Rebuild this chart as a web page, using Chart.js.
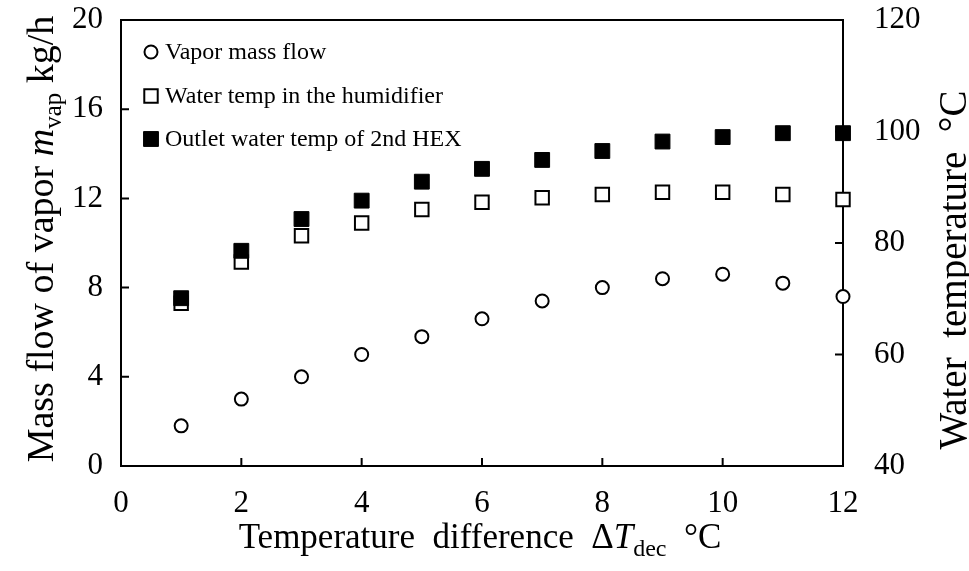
<!DOCTYPE html>
<html>
<head>
<meta charset="utf-8">
<script src="https://cdn.jsdelivr.net/npm/chart.js@4.4.0/dist/chart.umd.min.js"></script>
<style>
  html, body { margin: 0; padding: 0; background: #fff; }
</style>
</head>
<body>
<canvas id="vaporChart" width="969" height="571"></canvas>
<script>

const deltaT = [1, 2, 3, 4, 5, 6, 7, 8, 9, 10, 11, 12];
const vaporFlow = [1.8, 3.0, 4.0, 5.0, 5.8, 6.6, 7.4, 8.0, 8.4, 8.6, 8.2, 7.6];
const humidifierTemp = [69.2, 76.6, 81.3, 83.6, 86.0, 87.3, 88.1, 88.7, 89.1, 89.1, 88.7, 87.8];
const hexOutletTemp = [70.1, 78.6, 84.3, 87.6, 91.0, 93.3, 94.9, 96.5, 98.2, 99.0, 99.7, 99.7];

const xTickValues = [0, 2, 4, 6, 8, 10, 12];
const flowTickValues = [0, 4, 8, 12, 16, 20];
const tempTickValues = [40, 60, 80, 100, 120];

const serif = "'Liberation Serif', 'Times New Roman', serif";

function points(ys) {
    return deltaT.map((x, i) => ({ x: x, y: ys[i] }));
}

function fontOf(p) {
    return (p.italic ? 'italic ' : '') + p.size + 'px ' + serif;
}

// draws text made of parts (italics, subscripts) centred on x
function drawRich(ctx, parts, x, y) {
    let total = 0;
    parts.forEach(p => {
        ctx.font = fontOf(p);
        p.w = ctx.measureText(p.t).width;
        total += p.w;
    });
    let cx = x - total / 2;
    parts.forEach(p => {
        ctx.font = fontOf(p);
        ctx.fillText(p.t, cx, y + (p.dy || 0));
        cx += p.w;
    });
}

const xTitle = [
    { t: 'Temperature  difference  ', size: 35 },
    { t: '\u0394', size: 35 },
    { t: 'T', size: 35, italic: true },
    { t: 'dec', size: 24, dy: 8 },
    { t: '  \u00b0C', size: 35 }
];
const leftTitle = [
    { t: 'Mass flow of vapor ', size: 38 },
    { t: 'm', size: 38, italic: true },
    { t: 'vap', size: 25, dy: 8 },
    { t: ' kg/h', size: 38 }
];
const rightTitle = [
    { t: 'Water  temperature  \u00b0C', size: 39 }
];

const framePlugin = {
    id: 'frame',
    afterDraw(chart) {
        const ctx = chart.ctx;
        const a = chart.chartArea;
        const sx = chart.scales.x, sy = chart.scales.y, sy2 = chart.scales.y2;
        ctx.save();
        ctx.strokeStyle = '#000';
        ctx.lineWidth = 2;
        ctx.beginPath();
        ctx.moveTo(a.left - 1, a.top);
        ctx.lineTo(a.right + 1, a.top);
        // inward tick marks
        const len = 8;
        sx.ticks.forEach(t => {
            const px = sx.getPixelForValue(t.value);
            ctx.moveTo(px, a.bottom);
            ctx.lineTo(px, a.bottom - len);
        });
        sy.ticks.forEach(t => {
            const py = sy.getPixelForValue(t.value);
            ctx.moveTo(a.left, py);
            ctx.lineTo(a.left + len, py);
        });
        sy2.ticks.forEach(t => {
            const py = sy2.getPixelForValue(t.value);
            ctx.moveTo(a.right, py);
            ctx.lineTo(a.right - len, py);
        });
        ctx.stroke();

        // axis titles
        ctx.fillStyle = '#000';
        ctx.textBaseline = 'alphabetic';
        drawRich(ctx, xTitle, 480, 548);

        ctx.save();
        ctx.translate(53, 239);
        ctx.rotate(-Math.PI / 2);
        drawRich(ctx, leftTitle, 0, 0);
        ctx.restore();

        ctx.save();
        ctx.translate(966, 270);
        ctx.rotate(-Math.PI / 2);
        drawRich(ctx, rightTitle, 0, 0);
        ctx.restore();

        // legend inside the plot
        const rows = [52, 96, 139];
        chart.data.datasets.forEach((ds, i) => {
            ctx.fillStyle = ds.backgroundColor;
            ctx.strokeStyle = ds.borderColor;
            ctx.lineWidth = ds.borderWidth;
            Chart.helpers.drawPoint(ctx, {
                pointStyle: ds.pointStyle,
                radius: ds.pointRadius,
                rotation: 0,
                borderWidth: ds.borderWidth
            }, a.left + 30, rows[i]);
            ctx.fillStyle = '#000';
            ctx.font = '24px ' + serif;
            ctx.textBaseline = 'middle';
            ctx.fillText(ds.label, a.left + 44, rows[i] + 1);
        });
        ctx.restore();
    }
};

const data = {
    datasets: [{
        label: 'Vapor mass flow',
        data: points(vaporFlow),
        yAxisID: 'y',
        pointStyle: 'circle',
        pointRadius: 6.5,
        borderWidth: 2,
        borderColor: '#000',
        backgroundColor: '#fff',
        order: 0
    }, {
        label: 'Water temp in the humidifier',
        data: points(humidifierTemp),
        yAxisID: 'y2',
        pointStyle: 'rect',
        pointRadius: 9.5,
        borderWidth: 2,
        borderColor: '#000',
        backgroundColor: '#fff',
        order: 2
    }, {
        label: 'Outlet water temp of 2nd HEX',
        data: points(hexOutletTemp),
        yAxisID: 'y2',
        pointStyle: 'rect',
        pointRadius: 10.5,
        borderWidth: 1,
        borderColor: '#000',
        backgroundColor: '#000',
        order: 1
    }]
};

const tickFont = { family: serif, size: 31 };

function noPad(s) {
    s.paddingTop = 0;
    s.paddingBottom = 0;
}

const config = {
    type: 'scatter',
    data: data,
    options: {
        responsive: false,
        animation: false,
        clip: false,
        layout: { padding: { top: 20, left: 0, right: 0, bottom: 0 } },
        scales: {
            x: {
                type: 'linear',
                min: 0,
                max: 12,
                afterBuildTicks: s => { s.ticks = xTickValues.map(v => ({ value: v })); },
                afterFit: s => { s.height = 105; s.paddingLeft = 0; s.paddingRight = 0; },
                grid: { display: false, drawTicks: false },
                border: { display: true, color: '#000', width: 2 },
                ticks: { font: tickFont, color: '#000', padding: 19, autoSkip: false, maxRotation: 0 }
            },
            y: {
                position: 'left',
                min: 0,
                max: 20,
                afterBuildTicks: s => { s.ticks = flowTickValues.map(v => ({ value: v })); },
                afterFit: s => { s.width = 121; noPad(s); },
                grid: { display: false, drawTicks: false },
                border: { display: true, color: '#000', width: 2 },
                ticks: { font: tickFont, color: '#000', padding: 18 }
            },
            y2: {
                position: 'right',
                min: 40,
                max: 120,
                afterBuildTicks: s => { s.ticks = tempTickValues.map(v => ({ value: v })); },
                afterFit: s => { s.width = 126; noPad(s); },
                grid: { display: false, drawTicks: false },
                border: { display: true, color: '#000', width: 2 },
                ticks: { font: tickFont, color: '#000', padding: 31 }
            }
        },
        plugins: {
            legend: { display: false },
            tooltip: { enabled: false }
        }
    },
    plugins: [framePlugin]
};

const myChart = new Chart(document.getElementById('vaporChart'), config);

</script>
</body>
</html>
